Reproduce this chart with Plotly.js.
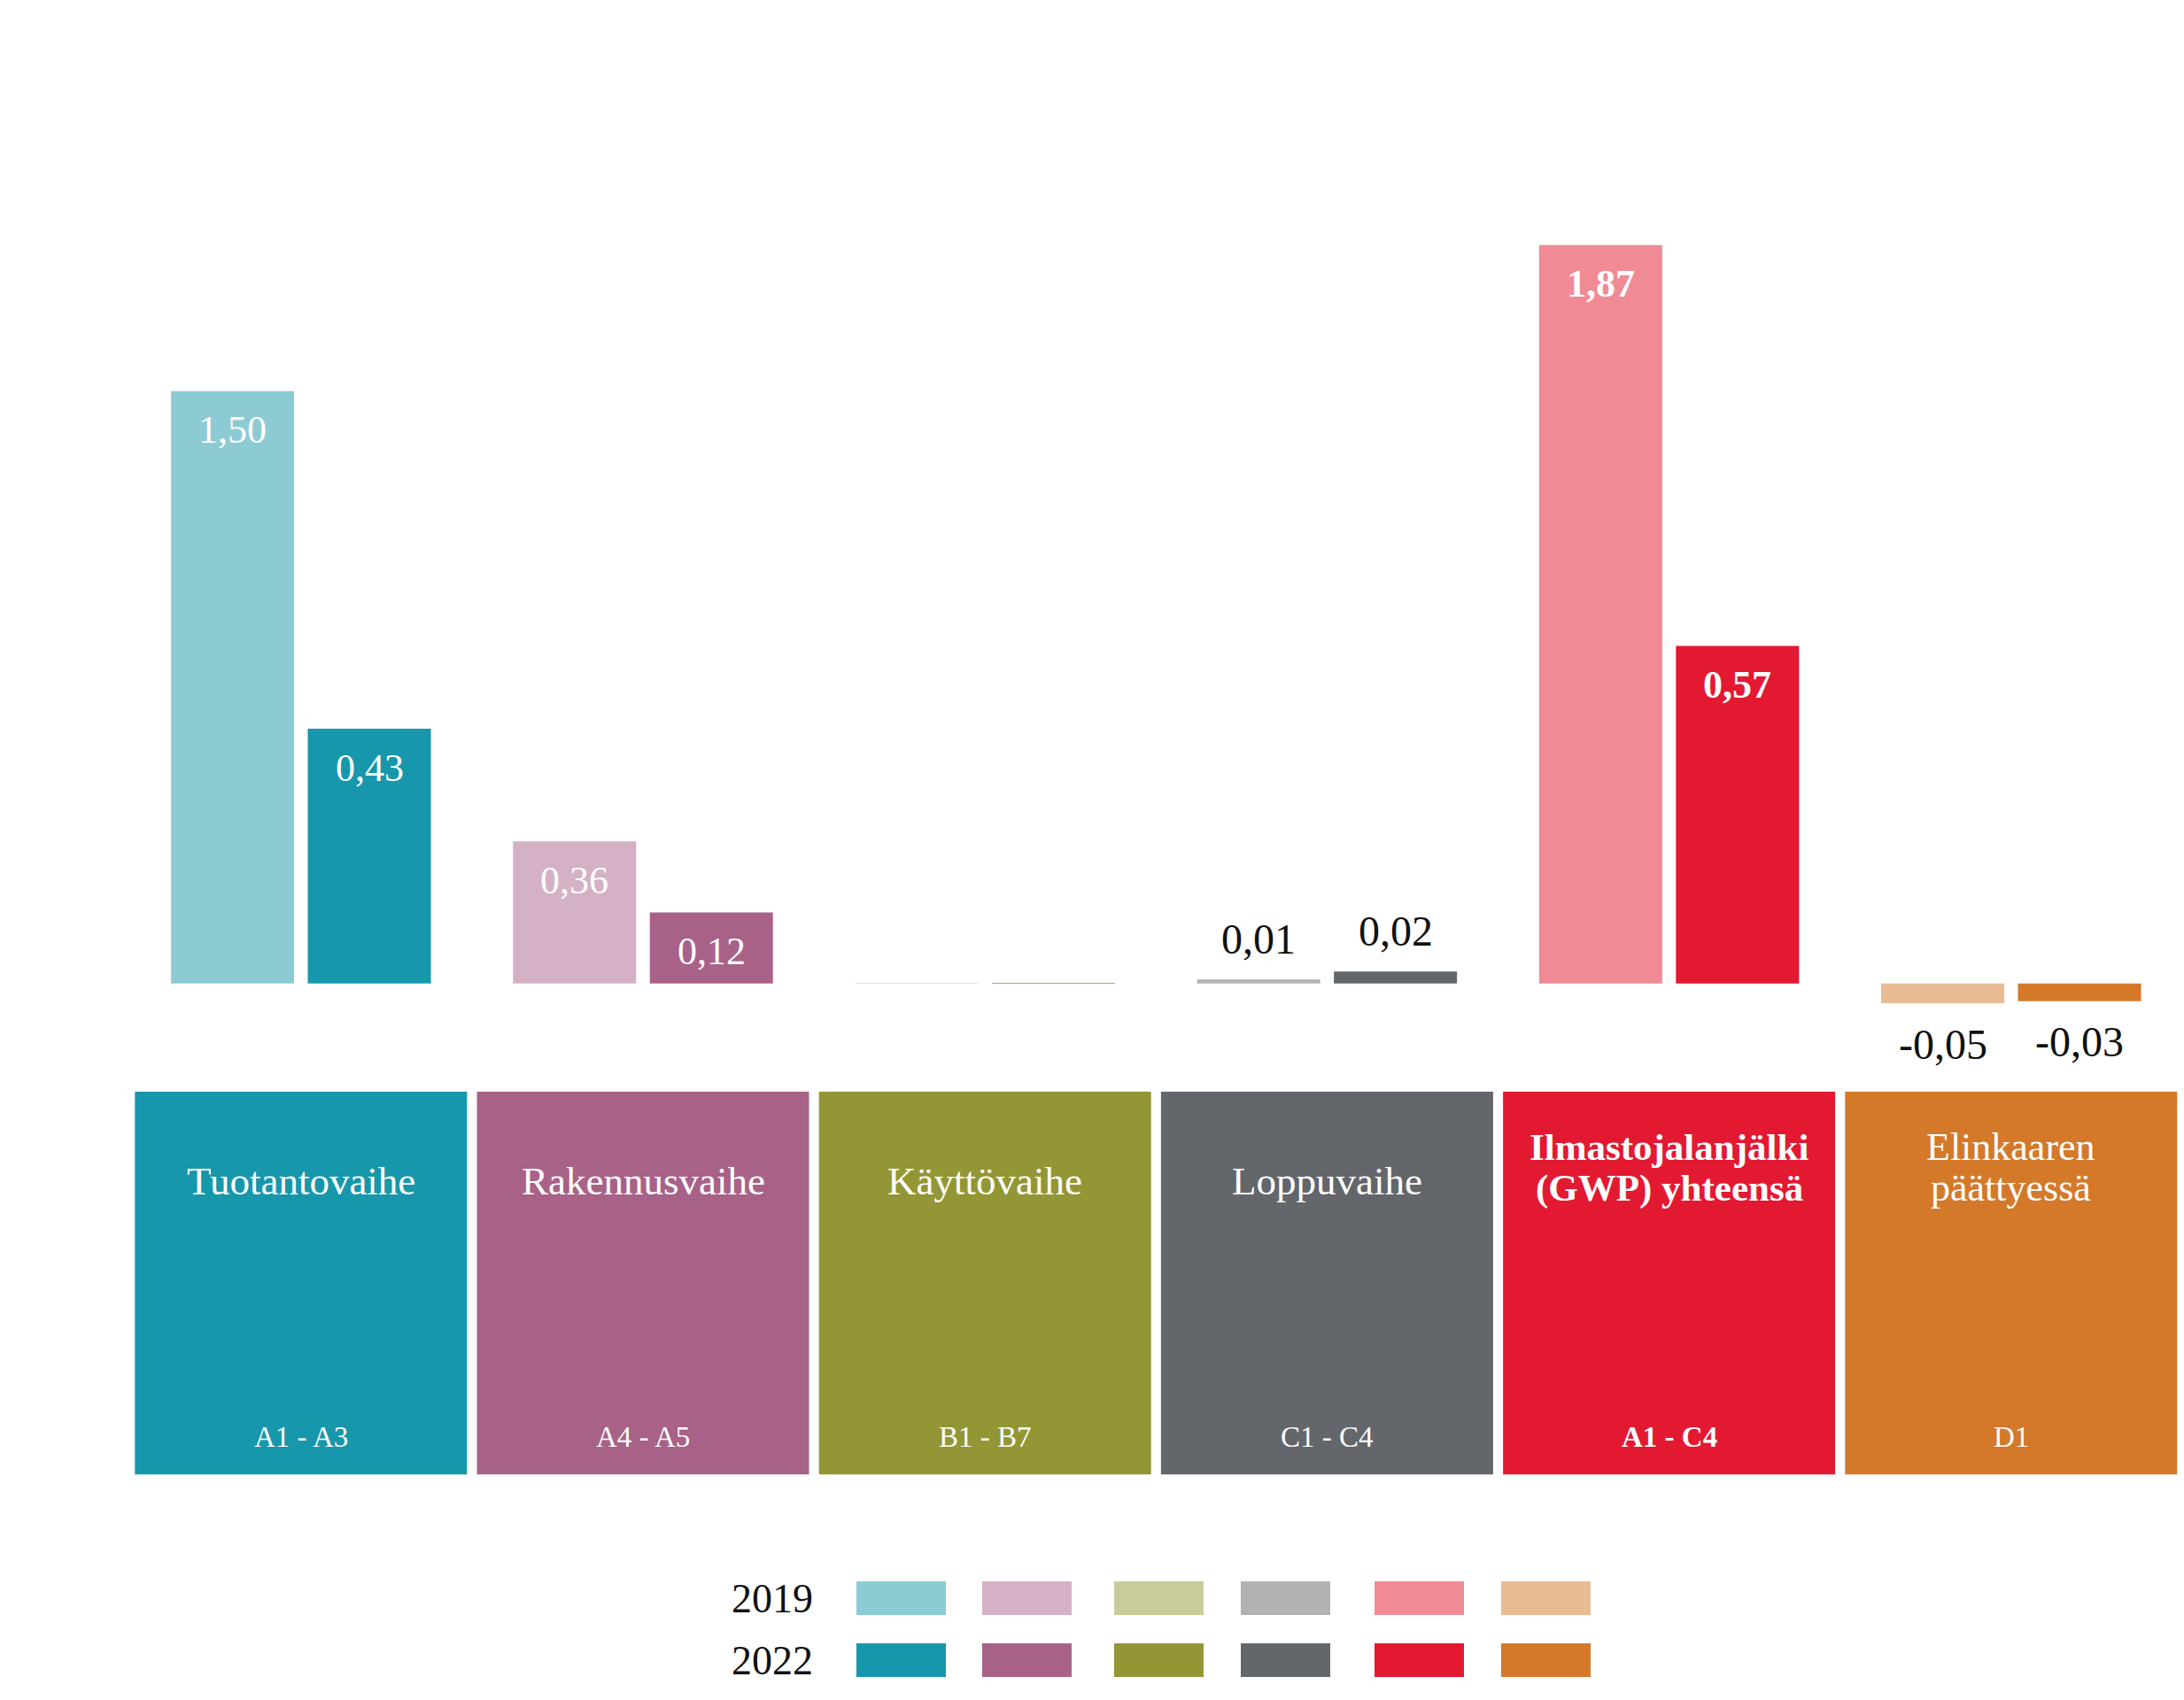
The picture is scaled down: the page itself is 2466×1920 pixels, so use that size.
<!DOCTYPE html>
<html>
<head>
<meta charset="utf-8">
<script src="https://cdn.plot.ly/plotly-3.0.1.min.js"></script>
<style>html,body{margin:0;padding:0;background:#fff;}</style>
</head>
<body>
<div id="chart" style="width:2466px;height:1920px;"></div>
<script>
// ---- data ----
const categories = ['Tuotantovaihe', 'Rakennusvaihe', 'Käyttövaihe', 'Loppuvaihe', 'Ilmastojalanjälki (GWP) yhteensä', 'Elinkaaren päättyessä'];
const labelLine1 = ['Tuotantovaihe', 'Rakennusvaihe', 'Käyttövaihe', 'Loppuvaihe', 'Ilmastojalanjälki', 'Elinkaaren'];
const labelLine2 = ['', '', '', '', '(GWP) yhteensä', 'päättyessä'];
const stageCodes = ['A1 - A3', 'A4 - A5', 'B1 - B7', 'C1 - C4', 'A1 - C4', 'D1'];
const years = ['2019', '2022'];
const values2019 = [1.50, 0.36, 0.001, 0.01, 1.87, -0.05];
const values2022 = [0.43, 0.12, 0.001, 0.02, 0.57, -0.03];
const labels2019 = ['1,50', '0,36', '', '0,01', '1,87', '-0,05'];
const labels2022 = ['0,43', '0,12', '', '0,02', '0,57', '-0,03'];
const colors2019 = ['#8ccbd3', '#d5b1c5', '#c8cc9a', '#b1b2b3', '#f08b96', '#e8bb93'];
const colors2022 = ['#1797ab', '#a86287', '#939635', '#63666b', '#e31932', '#d4792a'];
const boldIndex = 4;

// ---- layout helpers (pixels -> paper) ----
const W = 2466, H = 1920;
const px = x => x / W;
const py = y => 1 - y / H;

const serif = 'Liberation Serif, Times New Roman, serif';
const idx = categories.map((c, i) => i);

// y scales: 2022 drawn at 1.5x the 2019 scale
const yRange = [-0.2002, 2.2662];
const y2Range = yRange.map(v => v / 1.5);

const barWidth = 0.36;
const traces = [
  {
    type: 'bar', name: years[0], x: idx, y: values2019,
    xaxis: 'x', yaxis: 'y',
    width: barWidth, offset: -0.38,
    marker: {color: colors2019, line: {width: 0}},
    hoverinfo: 'skip', showlegend: false
  },
  {
    type: 'bar', name: years[1], x: idx, y: values2022,
    xaxis: 'x', yaxis: 'y2',
    width: barWidth, offset: 0.02,
    marker: {color: colors2022, line: {width: 0}},
    hoverinfo: 'skip', showlegend: false
  },
  {
    // category boxes
    type: 'bar', x: idx, y: idx.map(() => 1), base: 0,
    xaxis: 'x', yaxis: 'y3',
    width: 0.971,
    marker: {color: colors2022, line: {width: 0}},
    hoverinfo: 'skip', showlegend: false
  }
];

const annotations = [];
function valueLabel(i, v, txt, yref, xc) {
  if (!txt) return;
  const inside = Math.abs(v) >= 0.1;
  const a = {
    x: i + xc, y: v, xref: 'x', yref: yref, text: txt, showarrow: false,
    xanchor: 'center', yanchor: 'middle',
    font: {family: serif, size: inside ? 44 : 48, color: inside ? '#ffffff' : '#111111',
           weight: i === boldIndex ? 'bold' : 'normal'}
  };
  if (inside) a.yshift = -44;
  else a.yshift = v >= 0 ? 46 : -46;
  annotations.push(a);
}
idx.forEach(i => {
  valueLabel(i, values2019[i], labels2019[i], 'y', -0.2);
  valueLabel(i, values2022[i], labels2022[i], 'y2', 0.2);
  const bold = i === boldIndex ? 'bold' : 'normal';
  if (labelLine2[i]) {
    annotations.push({x: i, y: 0.855, xref: 'x', yref: 'y3', text: labelLine1[i], showarrow: false,
      xanchor: 'center', yanchor: 'middle', font: {family: serif, size: i === boldIndex ? 43 : 44, color: '#fff', weight: bold}});
    annotations.push({x: i, y: 0.748, xref: 'x', yref: 'y3', text: labelLine2[i], showarrow: false,
      xanchor: 'center', yanchor: 'middle', font: {family: serif, size: i === boldIndex ? 43 : 44, color: '#fff', weight: bold}});
  } else {
    annotations.push({x: i, y: 0.767, xref: 'x', yref: 'y3', text: labelLine1[i], showarrow: false,
      xanchor: 'center', yanchor: 'middle', font: {family: serif, size: 45, color: '#fff', weight: bold}});
  }
  annotations.push({x: i, y: 0.098, xref: 'x', yref: 'y3', text: stageCodes[i], showarrow: false,
    xanchor: 'center', yanchor: 'middle', font: {family: serif, size: 33, color: '#fff', weight: bold}});
});

// ---- custom legend ----
const swatchX = [967, 1109, 1258, 1401, 1552, 1695];
const swatchW = 101;
const rowY = [[1786, 1824], [1856, 1894]];
const shapes = [];
[colors2019, colors2022].forEach((cols, r) => {
  annotations.push({x: px(872), y: py((rowY[r][0] + rowY[r][1]) / 2), xref: 'paper', yref: 'paper',
    text: years[r], showarrow: false, xanchor: 'center', yanchor: 'middle',
    font: {family: serif, size: 46, color: '#111'}});
  cols.forEach((c, i) => {
    shapes.push({type: 'rect', xref: 'paper', yref: 'paper',
      x0: px(swatchX[i]), x1: px(swatchX[i] + swatchW), y0: py(rowY[r][1]), y1: py(rowY[r][0]),
      fillcolor: c, line: {width: 0}, layer: 'above'});
  });
});

const hiddenY = {visible: false, showgrid: false, zeroline: false, fixedrange: true};
const layout = {
  width: W, height: H, autosize: false,
  margin: {l: 0, r: 0, t: 0, b: 0, pad: 0},
  paper_bgcolor: '#ffffff', plot_bgcolor: 'rgba(0,0,0,0)',
  barmode: 'overlay',
  showlegend: false,
  xaxis: {type: 'linear', range: [-0.5, 5.5], domain: [px(146.7), px(2463.9)], visible: false, showgrid: false, zeroline: false},
  yaxis: Object.assign({range: yRange, domain: [py(1200), py(100)]}, hiddenY),
  yaxis2: Object.assign({range: y2Range, overlaying: 'y'}, hiddenY),
  yaxis3: Object.assign({range: [0, 1], domain: [py(1665.5), py(1232.7)]}, hiddenY),
  annotations: annotations,
  shapes: shapes
};

Plotly.newPlot('chart', traces, layout, {staticPlot: true, displayModeBar: false});
</script>
</body>
</html>
